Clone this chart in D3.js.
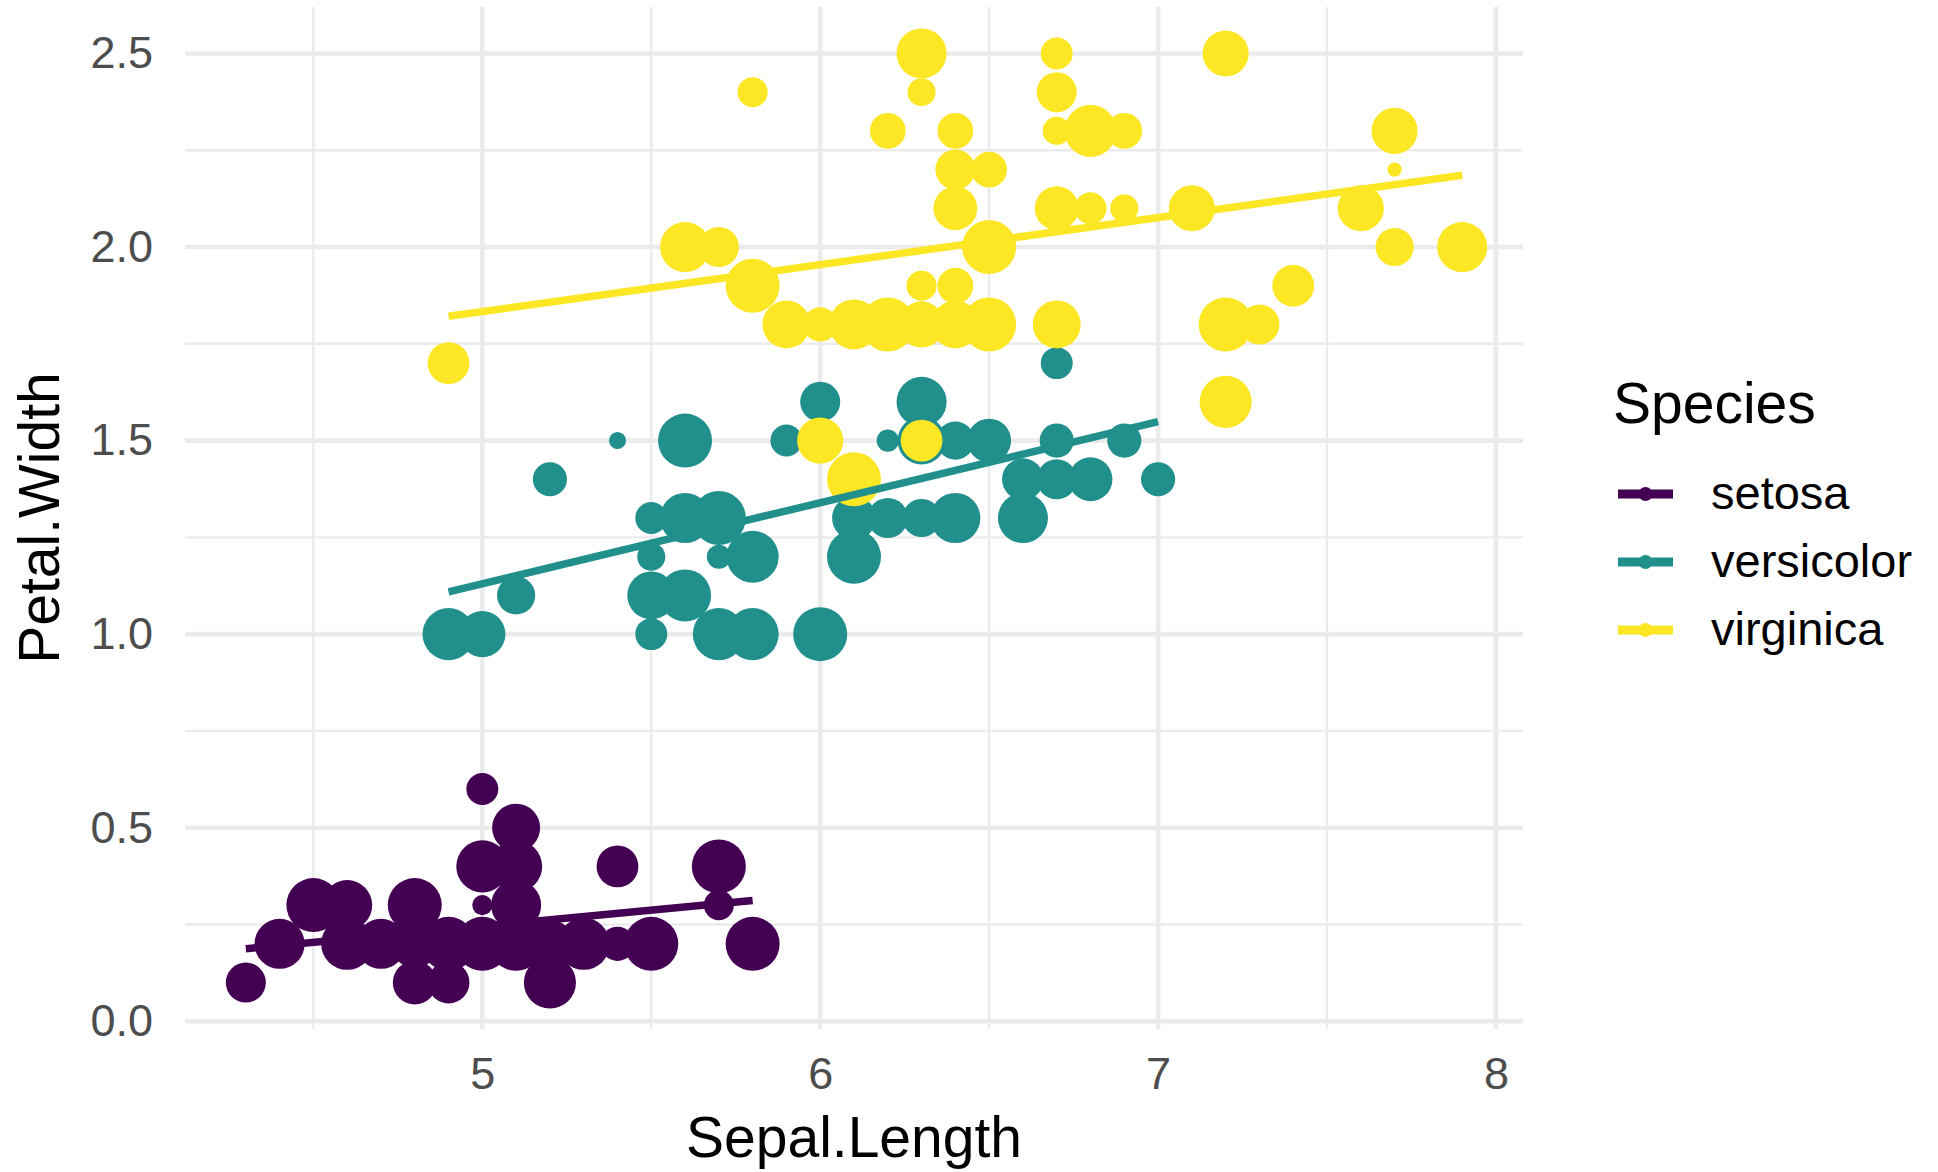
<!DOCTYPE html>
<html>
<head>
<meta charset="utf-8">
<script src="https://cdn.jsdelivr.net/npm/d3@7"></script>
<style>
  body { margin: 0; background: #fff; }
  text { font-family: "Liberation Sans", Arial, Helvetica, sans-serif; }
</style>
</head>
<body>
<div id="chart"></div>
<script>
// --- data (iris: Sepal.Length, Petal.Width, plus the size variable) ---
const species = ["setosa", "versicolor", "virginica"];
const speciesColors = ["#440154", "#21908C", "#FDE725"];

const setosaSL = [5.1,4.9,4.7,4.6,5.0,5.4,4.6,5.0,4.4,4.9,5.4,4.8,4.8,4.3,5.8,5.7,5.4,5.1,5.7,5.1,5.4,5.1,4.6,5.1,4.8,5.0,5.0,5.2,5.2,4.7,4.8,5.4,5.2,5.5,4.9,5.0,5.5,4.9,4.4,5.1,5.0,4.5,4.4,5.0,5.1,4.8,5.1,4.6,5.3,5.0];
const setosaPW = [0.2,0.2,0.2,0.2,0.2,0.4,0.3,0.2,0.2,0.1,0.2,0.2,0.1,0.1,0.2,0.4,0.4,0.3,0.3,0.3,0.2,0.4,0.2,0.5,0.2,0.2,0.4,0.2,0.2,0.2,0.2,0.4,0.1,0.2,0.2,0.2,0.2,0.1,0.2,0.2,0.3,0.3,0.2,0.6,0.4,0.3,0.2,0.2,0.2,0.2];
const setosaSize = [6.6,5.5,4.4,5.5,5.5,2.7,8.6,7.9,5.5,3.5,2.0,6.6,6.6,5.5,10,10,4.4,5.0,3.1,8.6,4.0,5.5,3.1,7.9,5.5,3.5,9.3,4.4,7.9,8.6,7.9,6.0,9.3,6.6,10,6.6,10,6.0,4.4,4.4,1.4,10,8.6,3.5,9.3,10,10,9.3,9.3,10];

const versicolorSL = [7.0,6.4,6.9,5.5,6.5,5.7,6.3,4.9,6.6,5.2,5.0,5.9,6.0,6.1,5.6,6.7,5.6,5.8,6.2,5.6,5.9,6.1,6.3,6.1,6.4,6.6,6.8,6.7,6.0,5.7,5.5,5.5,5.8,6.0,5.4,6.0,6.7,6.3,5.6,5.5,5.5,6.1,5.8,5.0,5.6,5.7,5.7,6.2,5.1,5.7];
const versicolorPW = [1.4,1.5,1.5,1.3,1.5,1.3,1.6,1.0,1.3,1.4,1.0,1.5,1.0,1.4,1.3,1.4,1.5,1.0,1.5,1.1,1.8,1.3,1.5,1.2,1.3,1.4,1.4,1.7,1.5,1.0,1.1,1.0,1.2,1.6,1.5,1.6,1.5,1.3,1.3,1.3,1.2,1.4,1.2,1.0,1.3,1.2,1.3,1.3,1.1,1.3];
const versicolorSize = [4.0,5.0,4.0,2.0,6.6,5.5,8.6,9.3,8.6,4.0,4.4,3.5,10,5.5,4.4,5.5,10,9.3,1.7,9.3,4.4,6.6,7.9,10,8.6,6.0,6.6,3.5,4.4,9.3,7.9,3.5,5.5,3.1,1.0,5.5,4.0,5.0,6.0,3.5,2.7,6.6,9.3,7.3,8.6,2.0,7.3,5.5,5.0,10];

const virginicaSL = [6.3,5.8,7.1,6.3,6.5,7.6,4.9,7.3,6.7,7.2,6.5,6.4,6.8,5.7,5.8,6.4,6.5,7.7,7.7,6.0,6.9,5.6,7.7,6.3,6.7,7.2,6.2,6.1,6.4,7.2,7.4,7.9,6.4,6.3,6.1,7.7,6.3,6.4,6.0,6.9,6.7,6.9,5.8,6.8,6.7,6.7,6.3,6.5,6.2,5.9];
const virginicaPW = [2.5,1.9,2.1,1.8,2.2,2.1,1.7,1.8,1.8,2.5,2.0,1.9,2.1,2.0,2.4,2.3,1.8,2.2,2.3,1.5,2.3,2.0,2.0,1.8,2.1,1.8,1.8,1.8,2.1,1.6,1.9,2.0,2.2,1.5,1.4,2.3,2.4,1.8,1.8,2.1,2.4,2.3,1.9,2.3,2.5,2.3,1.9,2.0,2.3,1.8];
const virginicaSize = [8.6,5.5,7.3,4.4,4.4,7.3,6.0,5.5,7.9,7.3,5.5,4.4,3.5,5.5,3.1,4.4,10,0.7,4.0,7.3,2.7,8.6,5.0,7.3,6.6,10,10,8.6,6.6,9.3,6.0,8.6,5.5,6.0,10,7.3,2.7,7.9,4.0,2.7,5.5,4.4,10,9.3,3.5,2.7,3.1,10,4.4,7.9];

const xTicks = [5, 6, 7, 8];
const xMinor = [4.5, 5.5, 6.5, 7.5];
const yTicks = [0, 0.5, 1.0, 1.5, 2.0, 2.5];
const yMinor = [0.25, 0.75, 1.25, 1.75, 2.25];

// --- 1. Setup ---
const width = 1938, height = 1172;
const panel = { left: 185, right: 1523, top: 7, bottom: 1029 };

const svg = d3.select("#chart").append("svg").attr("width", width).attr("height", height);

const rows = [];
[[setosaSL, setosaPW, setosaSize], [versicolorSL, versicolorPW, versicolorSize], [virginicaSL, virginicaPW, virginicaSize]]
    .forEach(([sl, pw, sz], i) => {
        sl.forEach((v, j) => rows.push({ species: species[i], x: v, y: pw[j], s: sz[j] }));
    });

// ggplot-style 5% expansion of the data range
function expand([a, b]) { const d = (b - a) * 0.05; return [a - d, b + d]; }

const x = d3.scaleLinear().domain(expand(d3.extent(rows, d => d.x))).range([panel.left, panel.right]);
const y = d3.scaleLinear().domain(expand(d3.extent(rows, d => d.y))).range([panel.bottom, panel.top]);
const r = d3.scaleSqrt().domain([0, 10]).range([0, 27]);
const color = d3.scaleOrdinal().domain(species).range(speciesColors);

// --- 2. Grid ---
const grid = svg.append("g");
grid.selectAll(".minor-x").data(xMinor).join("line")
    .attr("x1", d => x(d)).attr("x2", d => x(d)).attr("y1", panel.top).attr("y2", panel.bottom)
    .attr("stroke", "#EBEBEB").attr("stroke-width", 2.4);
grid.selectAll(".minor-y").data(yMinor).join("line")
    .attr("y1", d => y(d)).attr("y2", d => y(d)).attr("x1", panel.left).attr("x2", panel.right)
    .attr("stroke", "#EBEBEB").attr("stroke-width", 2.4);
grid.selectAll(".major-x").data(xTicks).join("line")
    .attr("x1", d => x(d)).attr("x2", d => x(d)).attr("y1", panel.top).attr("y2", panel.bottom)
    .attr("stroke", "#EBEBEB").attr("stroke-width", 4.6);
grid.selectAll(".major-y").data(yTicks).join("line")
    .attr("y1", d => y(d)).attr("y2", d => y(d)).attr("x1", panel.left).attr("x2", panel.right)
    .attr("stroke", "#EBEBEB").attr("stroke-width", 4.6);

// --- 3. Axes (labels only, like theme_minimal) ---
const xAxis = svg.append("g").attr("transform", `translate(0,${panel.bottom})`)
    .call(d3.axisBottom(x).tickValues(xTicks).tickFormat(d3.format("d")).tickSize(0).tickPadding(28));
const yAxis = svg.append("g").attr("transform", `translate(${panel.left},0)`)
    .call(d3.axisLeft(y).tickValues(yTicks).tickFormat(d3.format(".1f")).tickSize(0).tickPadding(32));
[xAxis, yAxis].forEach(g => {
    g.select(".domain").remove();
    g.selectAll("text").attr("font-size", 45).attr("fill", "#4D4D4D")
        .style("font-family", '"Liberation Sans", Arial, sans-serif');
});

svg.append("text").attr("x", (panel.left + panel.right) / 2).attr("y", 1157)
    .attr("text-anchor", "middle").attr("font-size", 57).attr("fill", "#000").text("Sepal.Length");
svg.append("text").attr("transform", `translate(59,${(panel.top + panel.bottom) / 2}) rotate(-90)`)
    .attr("text-anchor", "middle").attr("font-size", 57).attr("fill", "#000").text("Petal.Width");

// --- 4. Points (drawn in row order, later rows on top) ---
svg.append("g").selectAll("circle").data(rows).join("circle")
    .attr("cx", d => x(d.x)).attr("cy", d => y(d.y)).attr("r", d => r(d.s))
    .attr("fill", d => color(d.species));

// --- 5. Linear fits per species ---
const fits = species.map(sp => {
    const pts = rows.filter(d => d.species === sp);
    const mx = d3.mean(pts, d => d.x), my = d3.mean(pts, d => d.y);
    const slope = d3.sum(pts, d => (d.x - mx) * (d.y - my)) / d3.sum(pts, d => (d.x - mx) ** 2);
    const [x0, x1] = d3.extent(pts, d => d.x);
    return { species: sp, pts: [[x0, my + slope * (x0 - mx)], [x1, my + slope * (x1 - mx)]] };
});
const line = d3.line().x(d => x(d[0])).y(d => y(d[1]));
svg.append("g").selectAll("path").data(fits).join("path")
    .attr("d", d => line(d.pts)).attr("fill", "none")
    .attr("stroke", d => color(d.species)).attr("stroke-width", 7.5);

// --- 6. Legend ---
const legend = svg.append("g").attr("transform", "translate(1613,0)");
legend.append("text").attr("x", 0).attr("y", 423).attr("font-size", 57).attr("fill", "#000").text("Species");
const keys = legend.selectAll(".key").data(species).join("g")
    .attr("transform", (d, i) => `translate(0,${494 + i * 68})`);
keys.append("line").attr("x1", 5).attr("x2", 60).attr("stroke", d => color(d)).attr("stroke-width", 9);
keys.append("circle").attr("cx", 32.5).attr("r", 7).attr("fill", d => color(d));
keys.append("text").attr("x", 98).attr("y", 15).attr("font-size", 47).attr("fill", "#000").text(d => d);
</script>
</body>
</html>
